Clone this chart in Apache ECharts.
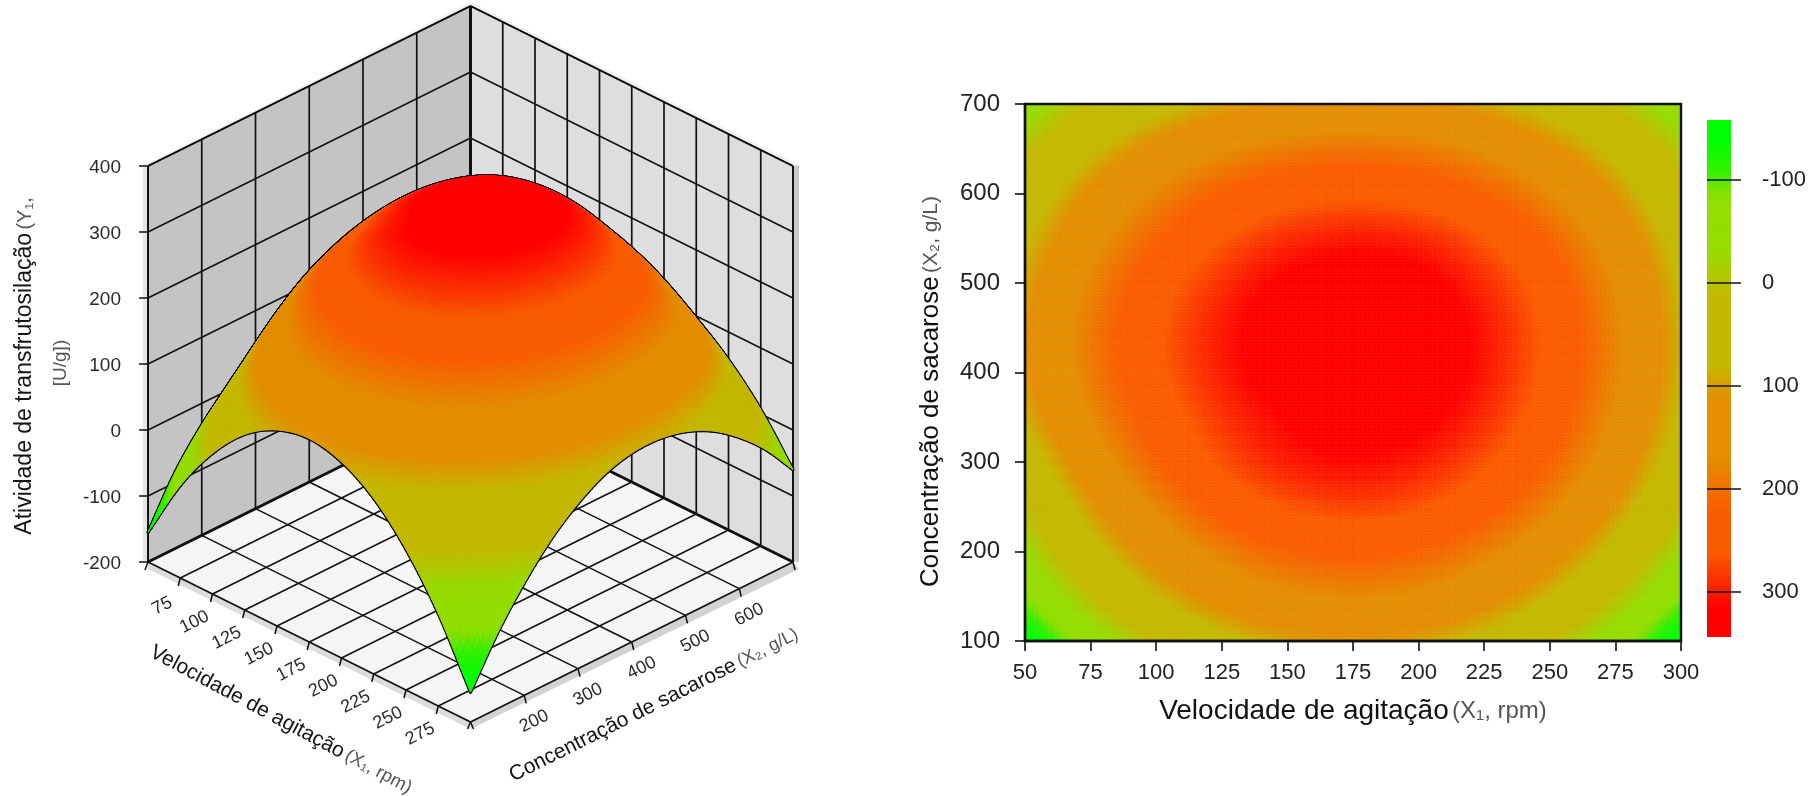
<!DOCTYPE html>
<html><head><meta charset="utf-8">
<style>html,body{margin:0;padding:0;background:#fff}#c{width:1819px;height:796px}</style>
<script src="https://cdn.jsdelivr.net/npm/echarts@6/dist/echarts.min.js"></script>
</head><body><div id="c"></div>
<script>
// ---------- data ----------
const x1Values = [50,75,100,125,150,175,200,225,250,275,300];
const x2Values = [100,150,200,250,300,350,400,450,500,550,600,650,700];
const yAt100 = [-155,-60,13,66,97,108,97,66,13,-60,-155];
const yAt150 = [-85,8,80,132,163,173,163,132,80,7,-86];
const yAt200 = [-33,61,133,185,217,227,217,186,134,63,-30];
const yAt250 = [8,104,178,233,265,277,266,234,181,109,16];
const yAt300 = [50,143,216,268,300,311,300,268,216,143,50];
const yAt350 = [88,172,238,286,316,330,322,292,239,166,74];
const yAt400 = [108,189,253,300,332,344,336,304,251,178,86];
const yAt450 = [111,191,255,302,333,345,337,305,252,179,87];
const yAt500 = [98,178,242,289,320,332,324,292,241,168,78];
const yAt550 = [75,153,216,261,291,302,295,264,215,146,59];
const yAt600 = [42,119,178,221,246,255,246,219,174,110,29];
const yAt650 = [0,71,127,166,190,198,190,165,123,65,-10];
const yAt700 = [-50,13,62,97,118,125,118,95,58,7,-60];
const zTable = [yAt100,yAt150,yAt200,yAt250,yAt300,yAt350,yAt400,yAt450,yAt500,yAt550,yAt600,yAt650,yAt700];

const x1Ticks3D = [75,100,125,150,175,200,225,250,275];
const x2Ticks3D = [200,300,400,500,600];
const zTicks3D = [-200,-100,0,100,200,300,400];
const wallX1Lines = [50,75,100,125,150,175,200,225,250,275,300];
const wallX2Lines = [100,200,300,400,500,600,700];
const colorbarTicks = [-100,0,100,200,300];
const colorValues = [-158,-138,-108,-88,-75,-32,14,80,115,170,222,262,316,344];
const colorRGB = [[0,255,0],[0,255,0],[50,240,0],[130,225,0],[148,222,0],[150,220,0],[197,184,0],[197,184,0],[228,142,0],[228,142,0],[250,92,0],[250,92,0],[255,0,0],[255,0,0]];

const FONT = '"Liberation Sans", Arial, sans-serif';
const SUB3D = 10, SUBMAP = 14;

function colorAt(z){
  const n = colorValues.length;
  if (z <= colorValues[0]) return rgb(colorRGB[0]);
  for (let k = 1; k < n; k++) if (z <= colorValues[k]) {
    const t = (z-colorValues[k-1])/(colorValues[k]-colorValues[k-1]);
    const a = colorRGB[k-1], b = colorRGB[k];
    return rgb([a[0]+(b[0]-a[0])*t, a[1]+(b[1]-a[1])*t, a[2]+(b[2]-a[2])*t]);
  }
  return rgb(colorRGB[n-1]);
}
function rgb(c){return 'rgb('+Math.round(c[0])+','+Math.round(c[1])+','+Math.round(c[2])+')';}

// shading inside a table cell
function cr(a,b,c,d,t){return .5*(2*b+(c-a)*t+(2*a-5*b+4*c-d)*t*t+(3*b-a-3*c+d)*t*t*t);}
function cellVal(i,j){
  const ni=x1Values.length, nj=x2Values.length;
  if (j<0) return 2*cellVal(i,0)-cellVal(i,1);
  if (j>=nj) return 2*cellVal(i,nj-1)-cellVal(i,nj-2);
  if (i<0) return 2*zTable[j][0]-zTable[j][1];
  if (i>=ni) return 2*zTable[j][ni-1]-zTable[j][ni-2];
  return zTable[j][i];
}
function shade(i,j,s,t){
  const r=[];
  for(let q=-1;q<=2;q++) r.push(cr(cellVal(i-1,j+q),cellVal(i,j+q),cellVal(i+1,j+q),cellVal(i+2,j+q),s));
  return cr(r[0],r[1],r[2],r[3],t);
}

// oblique projection expressed in the hidden axes of the left grid
const X1MIN=50,X1MAX=300,X2MIN=100,X2MAX=700,FLOOR_Z=-200,TOP_Z=400,SHEAR=242.42;
function proj(api,x1,x2,z){
  const u=(x1-X1MIN)/(X1MAX-X1MIN), v=(x2-X2MIN)/(X2MAX-X2MIN);
  return api.coord([u+v, z+(v-u)*SHEAR]);
}

const cells=[];
for(let i=0;i<x1Values.length-1;i++) for(let j=x2Values.length-2;j>=0;j--)
  cells.push([x1Values[i],x2Values[j],zTable[j][i]]);

function surfaceItem(outline){
  return function(params,api){
    const i=x1Values.indexOf(api.value(0)), j=x2Values.indexOf(api.value(1));
    const dx=x1Values[i+1]-x1Values[i], dy=x2Values[j+1]-x2Values[j];
    const kids=[];
    for(let a=0;a<SUB3D;a++) for(let b=SUB3D-1;b>=0;b--){
      const s0=a/SUB3D,s1=(a+1)/SUB3D,t0=b/SUB3D,t1=(b+1)/SUB3D;
      const corner=(s,t)=>proj(api,x1Values[i]+dx*s,x2Values[j]+dy*t,shade(i,j,s,t));
      const pts=[corner(s0,t0),corner(s1,t0),corner(s1,t1),corner(s0,t1)];
      if(outline){
        kids.push({type:'polygon',shape:{points:pts},style:{fill:'none',stroke:'#000',lineWidth:3.2,lineJoin:'round'}});
      }else{
        const col=colorAt(shade(i,j,(s0+s1)/2,(t0+t1)/2));
        kids.push({type:'polygon',shape:{points:pts},style:{fill:col,stroke:col,lineWidth:1,lineJoin:'round'}});
      }
    }
    return {type:'group',children:kids};
  };
}

function boxItem(params,api){
  const kids=[];
  const poly=(pts,fill)=>kids.push({type:'polygon',shape:{points:pts},style:{fill:fill}});
  const line=(a,b,w)=>kids.push({type:'line',shape:{x1:a[0],y1:a[1],x2:b[0],y2:b[1]},style:{stroke:'#111',lineWidth:w,lineCap:'butt'}});
  const text=(x,y,str,size,rot,align,fill)=>kids.push({type:'text',x:x,y:y,rotation:rot||0,style:{text:str,fontFamily:FONT,fontSize:size,fill:fill||'#2a2a2a',align:align||'center',verticalAlign:'middle'}});
  const off=(p,dx,dy)=>[p[0]+dx,p[1]+dy];

  const L=proj(api,X1MIN,X2MIN,FLOOR_Z), F=proj(api,X1MAX,X2MIN,FLOOR_Z), R=proj(api,X1MAX,X2MAX,FLOOR_Z), B=proj(api,X1MIN,X2MAX,FLOOR_Z);
  const LT=proj(api,X1MIN,X2MIN,TOP_Z), RT=proj(api,X1MAX,X2MAX,TOP_Z), BT=proj(api,X1MIN,X2MAX,TOP_Z);

  // thin side faces of the box
  poly([off(L,-5,0),off(LT,-5,0),LT,L],'#e6e6e6');
  poly([R,RT,off(RT,6,-1),off(R,6,0)],'#c9c9c9');
  poly([off(LT,-3,-1),off(BT,0,-4),BT,LT],'#f0f0f0');
  poly([BT,off(BT,0,-4),off(RT,6,-1),RT],'#f0f0f0');
  poly([L,F,off(F,0,7),off(L,0,7)],'#dcdcdc');
  poly([F,R,off(R,6,7),off(F,0,7)],'#d2d2d2');
  // walls and floor
  poly([L,LT,BT,B],'#c4c4c4');
  poly([B,BT,RT,R],'#dedede');
  poly([L,F,R,B],'#f5f5f5');

  // wall grid
  wallX2Lines.forEach(x2=>line(proj(api,X1MIN,x2,FLOOR_Z),proj(api,X1MIN,x2,TOP_Z),x2===X2MAX?3:1.7));
  wallX1Lines.forEach(x1=>{ if(x1>X1MIN) line(proj(api,x1,X2MAX,FLOOR_Z),proj(api,x1,X2MAX,TOP_Z),1.7); });
  zTicks3D.forEach(z=>{
    line(proj(api,X1MIN,X2MIN,z),proj(api,X1MIN,X2MAX,z),1.5);
    line(proj(api,X1MIN,X2MAX,z),proj(api,X1MAX,X2MAX,z),1.5);
    const p=proj(api,X1MIN,X2MIN,z);
    line(p,off(p,-9,0),1.5);
    text(p[0]-27,p[1]+2,String(z),19,0,'right');
  });
  // floor grid
  x1Ticks3D.forEach(x1=>{
    const a=proj(api,x1,X2MIN,FLOOR_Z);
    line(a,proj(api,x1,X2MAX,FLOOR_Z),1.5);
    line(a,off(a,-2,8),1.5);
    text(a[0]-18,a[1]+28,String(x1),18,0.47);
  });
  x2Ticks3D.forEach(x2=>{
    const a=proj(api,X1MAX,x2,FLOOR_Z);
    line(a,proj(api,X1MIN,x2,FLOOR_Z),1.5);
    line(a,off(a,2,8),1.5);
    text(a[0]+10,a[1]+26,String(x2),18,0.47);
  });
  // edges
  line(L,B,3); line(B,R,3);
  line(L,F,1.8); line(F,R,1.8);
  line(LT,BT,1.6); line(BT,RT,1.6);
  line(L,LT,1.7); line(R,RT,1.7);
  line(L,off(L,-3,8),1.5); line(F,off(F,-3,7),1.5); line(F,off(F,3,7),1.5); line(R,off(R,2,8),1.5);

  // axis titles
  const rich=(m,g)=>({main:{fontFamily:FONT,fontSize:m,fill:'#141414'},gray:{fontFamily:FONT,fontSize:g,fill:'#555'}});
  const title=(x,y,rot,str,m,g)=>kids.push({type:'text',x:x,y:y,rotation:rot,style:{text:str,rich:rich(m,g),align:'center',verticalAlign:'middle',fontFamily:FONT}});
  title(281,720,-0.49,'{main|Velocidade de agitação} {gray|(X₁, rpm)}',21,18.5);
  title(654,705,0.464,'{main|Concentração de sacarose} {gray|(X₂, g/L)}',21,18);
  title(25,366,Math.PI/2,'{main|Atividade de transfrutosilação} {gray|(Y₁,}',23,20);
  title(61,363,Math.PI/2,'{gray|[U/g])}',21,19);
  return {type:'group',children:kids};
}

// heatmap
const mapCells=cells.slice();
function mapItem(params,api){
  const i=x1Values.indexOf(api.value(0)), j=x2Values.indexOf(api.value(1));
  const dx=x1Values[i+1]-x1Values[i], dy=x2Values[j+1]-x2Values[j];
  const kids=[];
  for(let a=0;a<SUBMAP;a++) for(let b=0;b<SUBMAP;b++){
    const p0=api.coord([x1Values[i]+dx*a/SUBMAP,x2Values[j]+dy*(b+1)/SUBMAP]);
    const p1=api.coord([x1Values[i]+dx*(a+1)/SUBMAP,x2Values[j]+dy*b/SUBMAP]);
    const col=colorAt(shade(i,j,(a+.5)/SUBMAP,(b+.5)/SUBMAP));
    kids.push({type:'rect',shape:{x:p0[0],y:p0[1],width:p1[0]-p0[0],height:p1[1]-p0[1]},style:{fill:col,stroke:col,lineWidth:.6}});
  }
  return {type:'group',children:kids};
}
function frameItem(params,api){
  const a=api.coord([X1MIN,X2MAX]), b=api.coord([X1MAX,X2MIN]);
  return {type:'rect',shape:{x:a[0],y:a[1],width:b[0]-a[0],height:b[1]-a[1]},style:{fill:'none',stroke:'#111',lineWidth:2.4}};
}
const CB_MIN=colorValues[0], CB_MAX=colorValues[colorValues.length-1];
function colorbarItem(params,api){
  const a=api.coord([0,CB_MIN]), b=api.coord([1,CB_MAX]);
  const stops=colorValues.map((v,k)=>({offset:(v-CB_MIN)/(CB_MAX-CB_MIN),color:rgb(colorRGB[k])}));
  return {type:'rect',shape:{x:a[0],y:a[1],width:b[0]-a[0],height:b[1]-a[1]},
    style:{fill:new echarts.graphic.LinearGradient(0,0,0,1,stops)}};
}

const chart=echarts.init(document.getElementById('c'),null,{renderer:'canvas'});
const nameRich={a:{fontFamily:FONT,fontSize:26,color:'#111'},b:{fontFamily:FONT,fontSize:21,color:'#555'}};
const nameRichX={a:{fontFamily:FONT,fontSize:28,color:'#111'},b:{fontFamily:FONT,fontSize:24,color:'#555'}};
chart.setOption({
  animation:false,
  backgroundColor:'#fff',
  grid:[
    {left:148,top:6,width:645,height:716},
    {left:1025,top:104,width:656,height:537},
    {left:1707,top:120,width:24,height:517}
  ],
  xAxis:[
    {gridIndex:0,type:'value',min:0,max:2,show:false},
    {gridIndex:1,type:'value',min:X1MIN,max:X1MAX,interval:25,z:5,splitLine:{show:false},
      axisLine:{show:true,onZero:false,lineStyle:{color:'#111',width:2.4}},
      axisTick:{show:true,length:10,lineStyle:{color:'#111',width:1.6}},
      axisLabel:{margin:21,showMinLabel:true,showMaxLabel:true,fontFamily:FONT,fontSize:22,color:'#222'},
      name:'{a|Velocidade de agitação} {b|(X₁, rpm)}',nameLocation:'middle',nameGap:56,nameTextStyle:{rich:nameRichX}},
    {gridIndex:2,type:'value',min:0,max:1,show:false}
  ],
  yAxis:[
    {gridIndex:0,type:'value',min:FLOOR_Z-SHEAR,max:TOP_Z+SHEAR,show:false},
    {gridIndex:1,type:'value',min:X2MIN,max:X2MAX,interval:100,z:5,splitLine:{show:false},
      axisLine:{show:true,onZero:false,lineStyle:{color:'#111',width:2.4}},
      axisTick:{show:true,length:10,lineStyle:{color:'#111',width:1.6}},
      axisLabel:{margin:25,fontFamily:FONT,fontSize:24,color:'#222'},
      name:'{a|Concentração de sacarose} {b|(X₂, g/L)}',nameLocation:'middle',nameGap:81,nameRotate:90,
      nameTextStyle:{rich:nameRich,padding:[0,38,0,0]}},
    {gridIndex:2,type:'value',min:CB_MIN,max:CB_MAX,inverse:true,position:'left',z:5,splitLine:{show:false},
      axisLine:{show:false},
      axisTick:{show:true,inside:true,length:34,customValues:colorbarTicks,lineStyle:{color:'#111',width:1.6}},
      axisLabel:{inside:true,margin:55,customValues:colorbarTicks,align:'left',fontFamily:FONT,fontSize:22,color:'#222'}}
  ],
  series:[
    {type:'custom',name:'box',xAxisIndex:0,yAxisIndex:0,z:1,silent:true,progressive:0,data:[[0,0]],renderItem:boxItem},
    {type:'custom',name:'surface outline',xAxisIndex:0,yAxisIndex:0,z:2,silent:true,progressive:0,data:cells,encode:{x:0,y:1},renderItem:surfaceItem(true)},
    {type:'custom',name:'surface',xAxisIndex:0,yAxisIndex:0,z:3,silent:true,progressive:0,data:cells,encode:{x:0,y:1},renderItem:surfaceItem(false)},
    {type:'custom',name:'contour map',xAxisIndex:1,yAxisIndex:1,z:1,silent:true,progressive:0,data:mapCells,encode:{x:0,y:1},renderItem:mapItem},
    {type:'custom',name:'frame',xAxisIndex:1,yAxisIndex:1,z:4,silent:true,data:[[X1MIN,X2MIN]],encode:{x:0,y:1},renderItem:frameItem},
    {type:'custom',name:'colorbar',xAxisIndex:2,yAxisIndex:2,z:1,silent:true,data:[[0,CB_MIN]],encode:{x:0,y:1},renderItem:colorbarItem}
  ]
});
</script></body></html>
